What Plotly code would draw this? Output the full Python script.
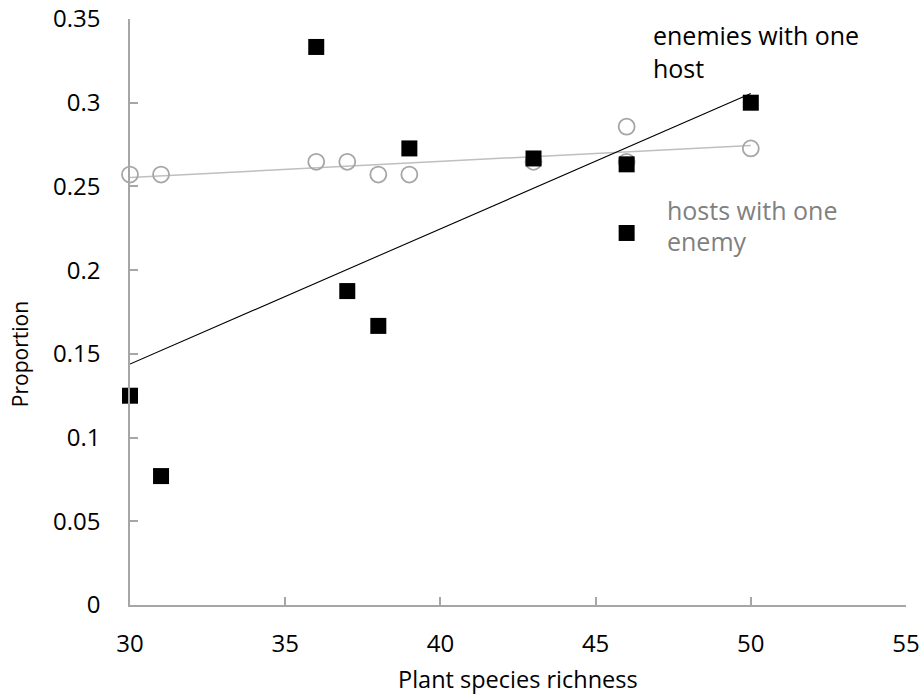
import numpy as np
import plotly.graph_objects as go

# Plant species richness per site
richness = [30, 31, 36, 37, 38, 39, 43, 46, 46, 50]
# Proportion of enemies with one host
enemies_one_host = [0.125, 0.077, 0.3333, 0.1875, 0.1667, 0.2727, 0.2667, 0.2632, 0.2222, 0.30]
# Proportion of hosts with one enemy
hosts_one_enemy = [0.2571, 0.2571, 0.2647, 0.2647, 0.2571, 0.2571, 0.2647, 0.2857, 0.2647, 0.2727]

x_ticks = [30, 35, 40, 45, 50, 55]
y_ticks = [0, 0.05, 0.1, 0.15, 0.2, 0.25, 0.3, 0.35]
y_tick_text = ["0", "0.05", "0.1", "0.15", "0.2", "0.25", "0.3", "0.35"]

FONT = "Open Sans"
AXIS_GREY = "#a6a6a6"


def linear_fit(x, y):
    slope, intercept = np.polyfit(x, y, 1)
    xs = np.array([min(x), max(x)], dtype=float)
    return xs, slope * xs + intercept


fig = go.Figure()

# hosts with one enemy: open grey circles + trend
hx, hy = linear_fit(richness, hosts_one_enemy)
fig.add_trace(go.Scatter(x=hx, y=hy, mode="lines", cliponaxis=False,
                         line=dict(color="#bfbfbf", width=1.5), hoverinfo="skip"))
fig.add_trace(go.Scatter(x=richness, y=hosts_one_enemy, mode="markers", cliponaxis=False,
                         marker=dict(symbol="circle-open", size=16,
                                     color="#a6a6a6", line=dict(width=1.8))))

# enemies with one host: black squares + trend
ex, ey = linear_fit(richness, enemies_one_host)
fig.add_trace(go.Scatter(x=ex, y=ey, mode="lines", cliponaxis=False,
                         line=dict(color="black", width=1.1), hoverinfo="skip"))
fig.add_trace(go.Scatter(x=richness, y=enemies_one_host, mode="markers", cliponaxis=False,
                         marker=dict(symbol="square", size=16, color="black",
                                     line=dict(width=0))))

annotations = [
    dict(x=46.8, y=0.3405, text="enemies with one", font=dict(color="black")),
    dict(x=46.8, y=0.3208, text="host", font=dict(color="black")),
    dict(x=47.25, y=0.236, text="hosts with one", font=dict(color="#808080")),
    dict(x=47.25, y=0.2174, text="enemy", font=dict(color="#808080")),
]
for a in annotations:
    a.update(xref="x", yref="y", xanchor="left", yanchor="middle", showarrow=False)
    a["font"].update(size=25, family=FONT)

annotations.append(dict(xref="paper", yref="paper", x=0.5, y=-0.126,
                        xanchor="center", yanchor="middle", showarrow=False,
                        text="Plant species richness",
                        font=dict(size=23.5, family=FONT, color="black")))
annotations.append(dict(xref="paper", yref="paper", x=-0.1418, y=0.428,
                        xanchor="center", yanchor="middle", showarrow=False,
                        textangle=-90, text="Proportion",
                        font=dict(size=21, family=FONT, color="black")))

fig.update_layout(
    width=924, height=697,
    margin=dict(l=130, r=18, t=19, b=92),
    paper_bgcolor="white", plot_bgcolor="white",
    showlegend=False,
    font=dict(family=FONT, size=24, color="black"),
    annotations=annotations,
    xaxis=dict(range=[30, 55], tickvals=x_ticks, showgrid=False, zeroline=False,
               automargin=False,
               showline=True, linecolor=AXIS_GREY, linewidth=1.5,
               ticks="inside", ticklen=8, tickcolor=AXIS_GREY, tickwidth=1.5,
               ticklabelstandoff=16, ticklabeloverflow="allow",
               tickfont=dict(size=24, color="black")),
    yaxis=dict(range=[0, 0.35], tickvals=y_ticks, ticktext=y_tick_text,
               showgrid=False, zeroline=False, automargin=False,
               showline=True, linecolor=AXIS_GREY, linewidth=1.5,
               ticks="inside", ticklen=8, tickcolor=AXIS_GREY, tickwidth=1.5,
               ticklabelstandoff=23, ticklabeloverflow="allow",
               tickfont=dict(size=24, color="black")),
)

fig.write_html("out.html")
